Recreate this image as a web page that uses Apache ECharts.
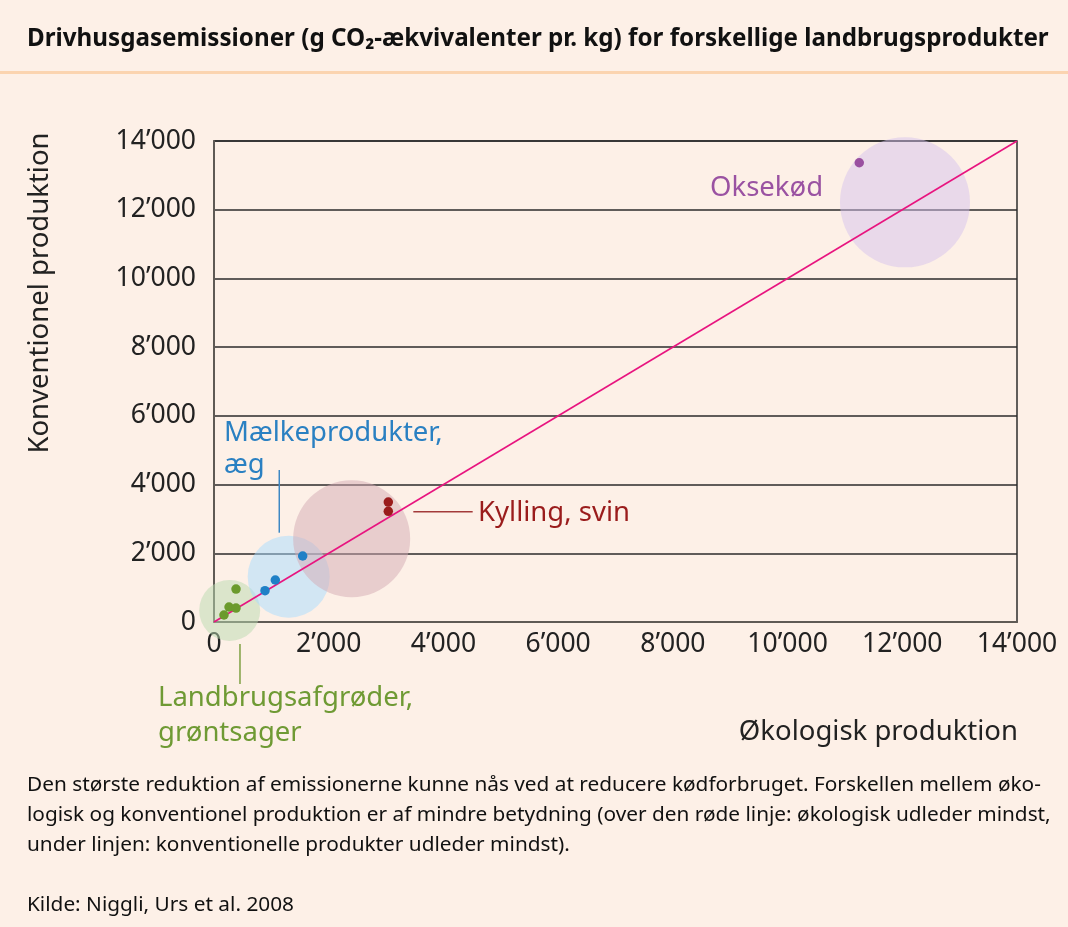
<!DOCTYPE html>
<html><head><meta charset="utf-8">
<script src="https://cdn.jsdelivr.net/npm/echarts@6/dist/echarts.min.js"></script>
<style>html,body{margin:0;padding:0;background:#fdf0e7}#c{width:1068px;height:927px}</style>
</head><body><div id="c"></div><script>
// ---- data ----
const tickLabels = ['0','2’000','4’000','6’000','8’000','10’000','12’000','14’000'];
const cropsPoints = [[384,960],[262,437],[384,407],[174,204]];
const dairyPoints = [[1546,1921],[1069,1222],[889,911]];
const meatPoints  = [[3039,3492],[3039,3222]];
const beefPoints  = [[11250,13367]];
const groupNames   = ['Landbrugsafgrøder,\ngrøntsager','Mælkeprodukter,\næg','Kylling, svin','Oksekød'];
const groupCentres = [[273,337],[1302,1318],[2400,2424],[12047,12215]];
const labelAnchors = [[-976,-2721],[174,5035],[4603,3172],[8647,12631]];
const leaderCrops = [[453,-640],[453,-1804]];
const leaderDairy = [[1138,4424],[1138,2599]];
const leaderMeat  = [[3475,3210],[4510,3210]];
const parityLine  = [[0,0],[14000,14000]];

// ---- styles ----
const pointColors  = ['#6b9a2c','#1f80c6','#9a1c1c','#9a50a0'];
const bubbleColors = ['rgba(186,218,176,0.5)','rgba(167,220,255,0.5)','rgba(211,170,180,0.5)','rgba(213,194,238,0.5)'];
const labelColors  = ['#6f9a34','#2a80c2','#9a1c1c','#9a52a2'];
const bubbleSizes  = [61, 82, 117, 130];
const FONT = 'Noto Sans';

const pointSets = [cropsPoints, dairyPoints, meatPoints, beefPoints];
const series = [];
groupCentres.forEach((c, i) => {
  series.push({type:'scatter', data:[c], symbolSize:bubbleSizes[i], clip:false, z:1, silent:true,
    itemStyle:{color:bubbleColors[i], opacity:1}});
});
series.push({type:'line', data:parityLine, symbol:'none', z:3, silent:true,
  lineStyle:{color:'#e8147f', width:1.6}});
pointSets.forEach((p, i) => {
  series.push({type:'scatter', data:p, symbolSize:9.5, z:4, clip:false, itemStyle:{color:pointColors[i], opacity:1}});
});
[[leaderCrops,'#7ea043'],[leaderDairy,'#3d88c4'],[leaderMeat,'#a33a3a']].forEach(([d,col]) => {
  series.push({type:'line', data:d, symbol:'none', z:3, clip:false, silent:true, lineStyle:{color:col, width:1.5}});
});
const lineHeights = [35, 32, 30, 30];
labelAnchors.forEach((a, i) => {
  series.push({type:'scatter', data:[{value:a, name:groupNames[i]}], symbolSize:0, clip:false, z:5, silent:true,
    itemStyle:{opacity:1},
    label:{show:true, formatter:'{b}', position:[0,0], align:'left', verticalAlign:'middle',
      color:labelColors[i], fontFamily:FONT, fontSize:27.5, lineHeight:lineHeights[i]}});
});

const axisLabel = {color:'#222', fontFamily:FONT, fontSize:26.5, formatter: v => tickLabels[Math.round(v/2000)]};
const chart = echarts.init(document.getElementById('c'));
chart.setOption({
  backgroundColor:'#fdf0e7',
  animation:false,
  title:{text:'Drivhusgasemissioner (g CO₂-ækvivalenter pr. kg) for forskellige landbrugsprodukter',
    left:27, top:27, padding:0,
    textStyle:{fontFamily:FONT, fontWeight:'bold', fontSize:24.2, color:'#111'}},
  grid:{left:214, right:51, top:141, bottom:305, show:true, borderColor:'#2e2e2e', borderWidth:1.5, backgroundColor:'transparent'},
  xAxis:{type:'value', min:0, max:14000, interval:2000,
    axisLine:{show:true, lineStyle:{color:'#5f5a55', width:2}}, axisTick:{show:false},
    splitLine:{show:false}, axisLabel:{...axisLabel, margin:9}},
  yAxis:{type:'value', min:0, max:14000, interval:2000,
    axisLine:{show:true, lineStyle:{color:'#5f5a55', width:2}}, axisTick:{show:false},
    splitLine:{show:true, lineStyle:{color:'#2b2b2b', width:1.5}}, axisLabel:{...axisLabel, margin:18}},
  graphic:[
    {type:'rect', shape:{x:0, y:71, width:1068, height:3}, style:{fill:'#fbd4b0'}},
    {type:'text', x:40, y:293, rotation:Math.PI/2, style:{text:'Konventionel produktion', align:'center', verticalAlign:'middle',
      fill:'#222', font:'27.5px "Noto Sans"'}},
    {type:'text', x:1018, y:732, style:{text:'Økologisk produktion', align:'right', verticalAlign:'middle',
      fill:'#222', font:'27.5px "Noto Sans"'}},
    {type:'text', x:27, y:770, style:{text:'Den største reduktion af emissionerne kunne nås ved at reducere kødforbruget. Forskellen mellem øko-\nlogisk og konventionel produktion er af mindre betydning (over den røde linje: økologisk udleder mindst,\nunder linjen: konventionelle produkter udleder mindst).',
      verticalAlign:'top', fill:'#111', font:'20.8px "Noto Sans"', lineHeight:30}},
    {type:'text', x:27, y:905, style:{text:'Kilde: Niggli, Urs et al. 2008', verticalAlign:'middle', fill:'#111', font:'20.8px "Noto Sans"'}}
  ],
  series
});
</script></body></html>
